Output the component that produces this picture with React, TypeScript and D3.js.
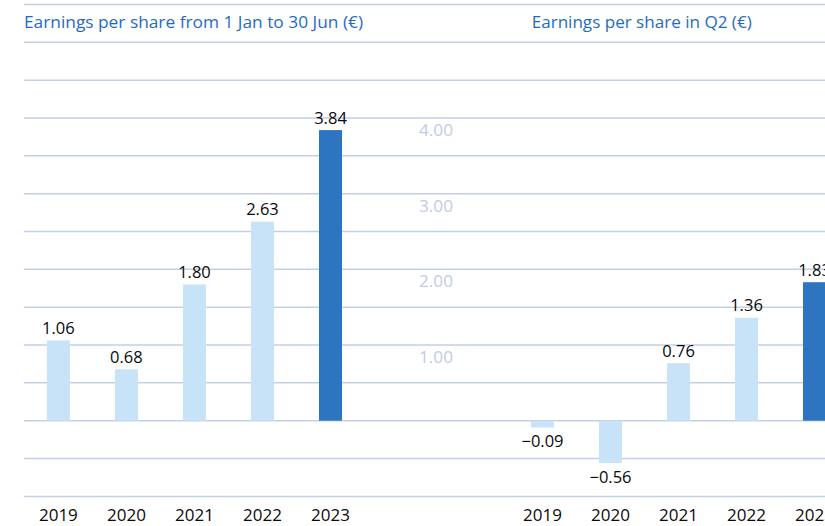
import React from "react";
import * as d3 from "d3";

const years = ["2019", "2020", "2021", "2022", "2023"];
const epsHalfYear = [1.06, 0.68, 1.8, 2.63, 3.84];
const epsQ2 = [-0.09, -0.56, 0.76, 1.36, 1.83];
const yTickLabels = [1, 2, 3, 4];
const titles = ["Earnings per share from 1 Jan to 30 Jun (€)", "Earnings per share in Q2 (€)"];

const W = 825;
const H = 526;
const FONT = "'Open Sans', 'Noto Sans', sans-serif";
const LIGHT = "#c8e2f7";
const DARK = "#2e75c1";
const GRID = "#c3cfe7";
const AXIS_TXT = "#bfcbe3";
const TITLE = "#1f6bc4";

const fmt = (v: number) => (v < 0 ? "\u2212" : "") + Math.abs(v).toFixed(2);

export default function App() {
  const y = d3.scaleLinear().domain([0, 5]).range([420.7, 42.3]);
  const gridVals = d3.range(-1, 5.51, 0.5);
  const xLeft = d3.scalePoint<string>().domain(years).range([58.4, 330.5]);
  const xRight = d3.scalePoint<string>().domain(years).range([542.5, 814.5]);
  const barW = 23;

  const panel = (x: d3.ScalePoint<string>, vals: number[], key: string) =>
    years.map((yr, i) => {
      const v = vals[i];
      const cx = x(yr) as number;
      const top = Math.min(y(v), y(0));
      const h = Math.abs(y(v) - y(0));
      const isLast = i === years.length - 1;
      return (
        <g key={key + yr}>
          <rect x={cx - barW / 2} y={top} width={barW} height={h} fill={isLast ? DARK : LIGHT} />
          <text
            x={cx}
            y={v >= 0 ? y(v) - 6.5 : y(v) + 19.5}
            textAnchor="middle"
            fontFamily={FONT}
            fontSize={16.5}
            fill="#0a0a0a"
          >
            {fmt(v)}
          </text>
          <text x={cx} y={521} textAnchor="middle" fontFamily={FONT} fontSize={17} fill="#0a0a0a">
            {yr}
          </text>
        </g>
      );
    });

  return (
    <svg width={W} height={H} style={{ position: "absolute", left: 0, top: 0, background: "#fff" }}>
      <rect width={W} height={H} fill="#fff" />
      {gridVals.map((g) => (
        <line key={g} x1={24} x2={W} y1={y(g)} y2={y(g)} stroke={GRID} strokeWidth={1.5} />
      ))}
      {yTickLabels.map((t) => (
        <text
          key={t}
          x={453}
          y={y(t) + 18}
          textAnchor="end"
          fontFamily={FONT}
          fontSize={17}
          fill={AXIS_TXT}
          textLength={34}
          lengthAdjust="spacingAndGlyphs"
        >
          {t.toFixed(2)}
        </text>
      ))}
      <text x={24} y={28.3} fontFamily={FONT} fontSize={17} fill={TITLE} textLength={339} lengthAdjust="spacingAndGlyphs">
        {titles[0]}
      </text>
      <text x={531.7} y={28.3} fontFamily={FONT} fontSize={17} fill={TITLE} textLength={220} lengthAdjust="spacingAndGlyphs">
        {titles[1]}
      </text>
      {panel(xLeft, epsHalfYear, "l")}
      {panel(xRight, epsQ2, "r")}
    </svg>
  );
}
